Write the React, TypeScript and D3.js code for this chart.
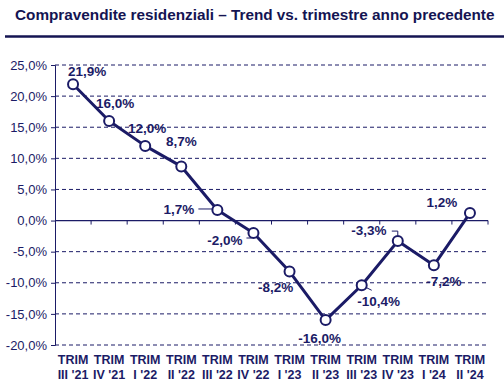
import * as React from 'react';
import * as d3 from 'd3';

const quarters: string[] = ["III '21", "IV '21", "I '22", "II '22", "III '22", "IV '22", "I '23", "II '23", "III '23", "IV '23", "I '24", "II '24"];
const trend: number[] = [21.9, 16.0, 12.0, 8.7, 1.7, -2.0, -8.2, -16.0, -10.4, -3.3, -7.2, 1.2];
const yTicks: number[] = [-20, -15, -10, -5, 0, 5, 10, 15, 20, 25];

const NAVY = '#1b1b66';
const FONT = 'Liberation Sans, Arial, sans-serif';
const fmt = (v: number) => v.toFixed(1).replace('.', ',') + '%';

// label placement relative to each point: [dx, dy, anchor, leader?]
const labelPos: [number, number, string, number[] | null][] = [
    [14, -8, 'middle', null],
    [6, -13, 'middle', null],
    [2, -13, 'middle', null],
    [0, -20, 'middle', null],
    [-23, 4, 'end', [-19, -1, -5, -1]],
    [-11, 12, 'end', [-7, 5, -2, 5]],
    [-14, 20, 'middle', null],
    [-6, 23, 'middle', null],
    [17, 21, 'middle', [4, 2, 10, 5]],
    [-29, -6, 'middle', [-6, -10, 0, -10, 0, -6]],
    [10, 21, 'middle', null],
    [-28, -6, 'middle', null],
];

export default function App() {
    const ref = React.useRef<SVGSVGElement>(null);
    const W = 504, H = 385;
    const left = 55, right = 488, top = 65, bottom = 345;

    React.useEffect(() => {
        const svg = d3.select(ref.current);
        svg.selectAll('*').remove();

        const x = d3.scaleBand<string>().domain(quarters).range([left, right]);
        const y = d3.scaleLinear().domain([-20, 25]).range([bottom, top]);
        const cx = (i: number) => x(quarters[i])! + x.bandwidth() / 2;

        // title and rule
        svg.append('text')
            .attr('x', 15).attr('y', 20)
            .attr('font-family', FONT)
            .attr('font-weight', 'bold').attr('font-size', 15.3)
            .attr('fill', '#141452')
            .text('Compravendite residenziali \u2013 Trend vs. trimestre anno precedente');
        svg.append('line')
            .attr('x1', 5).attr('x2', W).attr('y1', 36.5).attr('y2', 36.5)
            .attr('stroke', '#141452').attr('stroke-width', 2.5);

        // gridlines (dashed) except zero
        svg.append('g').selectAll('line')
            .data(yTicks.filter(t => t !== 0))
            .join('line')
            .attr('x1', left).attr('x2', right)
            .attr('y1', d => y(d)).attr('y2', d => y(d))
            .attr('stroke', NAVY).attr('stroke-width', 1)
            .attr('stroke-dasharray', '4,3');

        // y axis
        const yAxis = d3.axisLeft(y).tickValues(yTicks).tickSize(4).tickPadding(4)
            .tickFormat(d => fmt(+d));
        svg.append('g')
            .attr('transform', `translate(${left},0)`)
            .call(yAxis)
            .call(g => g.selectAll('line, path').attr('stroke', NAVY))
            .call(g => g.selectAll('text')
                .attr('fill', NAVY)
                .attr('font-family', FONT)
                .attr('font-size', 13));

        // zero axis with category ticks
        const xAxis = d3.axisBottom(x).tickSize(0).tickFormat(() => '');
        svg.append('g')
            .attr('transform', `translate(0,${y(0)})`)
            .call(xAxis)
            .call(g => g.select('.domain').attr('stroke', NAVY).attr('stroke-width', 1.2)
                .attr('d', `M${left},0H${right}`));
        svg.append('g').selectAll('line')
            .data(quarters)
            .join('line')
            .attr('x1', d => x(d)! + x.bandwidth()).attr('x2', d => x(d)! + x.bandwidth())
            .attr('y1', y(0)).attr('y2', y(0) + 4)
            .attr('stroke', NAVY).attr('stroke-width', 1);

        // category labels
        const lab = svg.append('g')
            .attr('font-family', FONT)
            .attr('font-weight', 'bold').attr('font-size', 12.5)
            .attr('fill', NAVY).attr('text-anchor', 'middle');
        quarters.forEach((q, i) => {
            lab.append('text').attr('x', cx(i)).attr('y', 364).text('TRIM');
            lab.append('text').attr('x', cx(i)).attr('y', 379).text(q);
        });

        // line
        const line = d3.line<number>().x((_, i) => cx(i)).y(d => y(d));
        svg.append('path')
            .datum(trend)
            .attr('d', line)
            .attr('fill', 'none')
            .attr('stroke', NAVY).attr('stroke-width', 3)
            .attr('stroke-linejoin', 'round');

        // leaders
        trend.forEach((v, i) => {
            const l = labelPos[i][3];
            if (!l) return;
            const pts: [number, number][] = [];
            for (let k = 0; k < l.length; k += 2) pts.push([cx(i) + l[k], y(v) + l[k + 1]]);
            svg.append('path')
                .attr('d', d3.line()(pts))
                .attr('fill', 'none').attr('stroke', NAVY).attr('stroke-width', 1);
        });

        // markers
        svg.append('g').selectAll('circle')
            .data(trend)
            .join('circle')
            .attr('cx', (_, i) => cx(i)).attr('cy', d => y(d))
            .attr('r', 5)
            .attr('fill', '#fff').attr('stroke', NAVY).attr('stroke-width', 2);

        // value labels
        svg.append('g')
            .attr('font-family', FONT)
            .attr('font-weight', 'bold').attr('font-size', 13.5)
            .attr('fill', NAVY)
            .selectAll('text')
            .data(trend)
            .join('text')
            .attr('x', (_, i) => cx(i) + labelPos[i][0])
            .attr('y', (d, i) => y(d) + labelPos[i][1])
            .attr('text-anchor', (_, i) => labelPos[i][2])
            .text(d => fmt(d));
    }, []);

    return (
        <svg ref={ref} width={W} height={H}
            style={{ position: 'absolute', left: 0, top: 0, background: '#fff' }} />
    );
}
